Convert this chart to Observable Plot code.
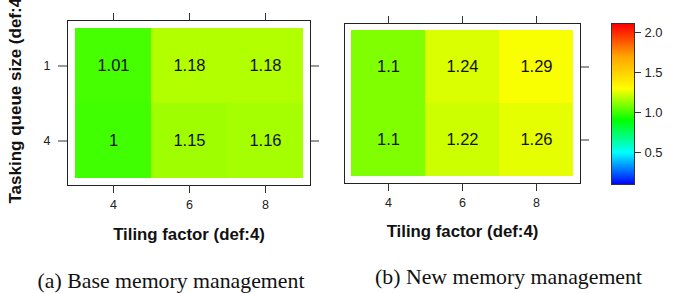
<!DOCTYPE html>
<html><head><meta charset="utf-8">
<script src="https://cdn.jsdelivr.net/npm/d3@7"></script>
<script src="https://cdn.jsdelivr.net/npm/@observablehq/plot@0.6"></script>
<style>
body{margin:0;background:#fff}
#wrap{position:relative;width:678px;height:293px;overflow:hidden;background:#fff}
#wrap svg{position:absolute;left:0;top:0}
</style></head><body><div id="wrap"></div>
<script>
const tiling = ["4", "6", "8"];
const queue = ["1", "4"];
const baseValues = [[1.01, 1.18, 1.18], [1, 1.15, 1.16]];
const newValues = [[1.1, 1.24, 1.29], [1.1, 1.22, 1.26]];
const colorStops = [0.1, 0.5, 0.9, 1.3, 1.7, 2.1];
const colorRange = ["#0000ff", "#00ffff", "#00ff00", "#ffff00", "#ffa500", "#ff0000"];
const colorTicks = [0.5, 1, 1.5, 2];
const colorExtent = [0.1, 2.1125];
const xTitle = "Tiling factor (def:4)";
const yTitle = "Tasking queue size (def:4)";
const captions = ["(a) Base memory management", "(b) New memory management"];

const W = 678, H = 293;
const sans = "'Liberation Sans', Arial, Helvetica, sans-serif";
const serif = "'Liberation Serif', 'Times New Roman', serif";
const colorScale = {type: "linear", domain: colorStops, range: colorRange, interpolate: "rgb"};

function panel(values, o) {
  const data = [];
  queue.forEach((q, i) => tiling.forEach((t, j) => data.push({q, t, v: values[i][j]})));
  const marks = [
    Plot.cell(data, {x: "t", y: "q", fill: "v"}),
    Plot.text(data, {x: "t", y: "q", text: d => String(d.v), fontSize: 16.5, fill: "#111"}),
    Plot.frame({stroke: "#222"}),
    Plot.axisX({anchor: "bottom", tickSize: 8, tickPadding: 7, fontSize: 12.5, label: null, stroke: "#333"}),
    Plot.axisX({anchor: "top", tickSize: 8, tickFormat: () => "", label: null, stroke: "#333"}),
    Plot.axisY({anchor: "right", tickSize: 8, tickFormat: () => "", label: null, stroke: "#333"}),
    Plot.text([xTitle], {frameAnchor: "bottom", lineAnchor: "bottom", dy: o.titleDy, fontWeight: "bold", fontSize: 16.8, fill: "#111"}),
    Plot.text([o.caption], {frameAnchor: "bottom", lineAnchor: "bottom", dx: o.capDx, dy: o.capDy, fontFamily: serif, fontSize: 21.8, fill: "#111"})
  ];
  if (o.left) {
    marks.push(Plot.axisY({anchor: "left", tickSize: 9, tickPadding: 8, fontSize: 12.5, label: null, stroke: "#333"}));
    marks.push(Plot.text([yTitle], {frameAnchor: "bottom-left", rotate: -90, textAnchor: "start", dx: -47, dy: 18, fontWeight: "bold", fontSize: 17, fill: "#111"}));
  }
  return Plot.plot({
    width: W, height: H,
    marginLeft: o.ml, marginRight: W - o.mr, marginTop: o.mt, marginBottom: H - o.mb,
    x: {type: "band", domain: tiling, padding: 0, inset: 7},
    y: {type: "band", domain: queue, padding: 0, inset: 7},
    color: colorScale,
    style: {fontFamily: sans, background: "transparent", color: "#222", overflow: "visible"},
    marks
  });
}

const wrap = document.getElementById("wrap");
wrap.appendChild(panel(baseValues, {ml: 67, mr: 310, mt: 20, mb: 185, titleDy: 54, capDx: -18, capDy: 102, caption: captions[0], left: true}));
wrap.appendChild(panel(newValues, {ml: 344, mr: 580, mt: 23, mb: 183, titleDy: 53, capDx: 46, capDy: 100, caption: captions[1], left: false}));

const bar = Plot.plot({
  width: W, height: H,
  marginLeft: 611, marginRight: W - 634, marginTop: 23, marginBottom: H - 184,
  x: {domain: [0, 1], axis: null},
  y: {domain: colorExtent},
  color: colorScale,
  style: {fontFamily: sans, background: "transparent", color: "#222", overflow: "visible"},
  marks: [
    Plot.raster({fill: (x, y) => y, x1: 0, x2: 1, y1: colorExtent[0], y2: colorExtent[1], pixelSize: 1, imageRendering: "auto"}),
    Plot.frame({stroke: "#333"}),
    Plot.axisY({anchor: "right", ticks: colorTicks, tickFormat: ".1f", tickSize: 6, tickPadding: 4, fontSize: 13, label: null, stroke: "#333"})
  ]
});
wrap.appendChild(bar);
</script></body></html>
